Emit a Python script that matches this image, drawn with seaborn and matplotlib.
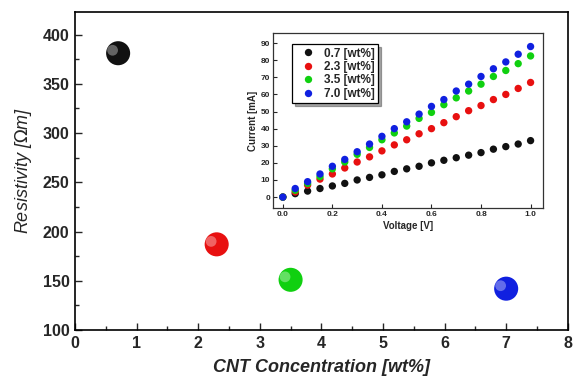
import numpy as np
import pandas as pd
import seaborn as sns
import matplotlib.pyplot as plt
from matplotlib.ticker import MultipleLocator

# main plot data
conc = [0.7, 2.3, 3.5, 7.0]
resistivity = [381, 187, 151, 142]
colors = ['#111111', '#e81010', '#10d010', '#1020e0']

# inset I-V data
voltage = [0.0, 0.05, 0.1, 0.15, 0.2, 0.25, 0.3, 0.35, 0.4, 0.45, 0.5,
           0.55, 0.6, 0.65, 0.7, 0.75, 0.8, 0.85, 0.9, 0.95, 1.0]
cur_07 = [0, 2, 3.5, 5, 6.5, 8, 10, 11.5, 13, 15, 16.5, 18, 20, 21.5, 23,
          24.5, 26, 28, 29.5, 31, 33]
cur_23 = [0, 3, 7, 10.5, 13.5, 17, 20.5, 23.5, 27, 30.5, 33.5, 37, 40, 43.5,
          47, 50.5, 53.5, 57, 60, 63.5, 67]
cur_35 = [0, 4, 8, 12, 16.5, 20.5, 25, 29, 33.5, 37.5, 41.5, 46, 49.5, 54,
          58, 62, 66, 70.5, 74, 78, 82.5]
cur_70 = [0, 5, 9, 13.5, 18, 22, 26.5, 31, 35.5, 40, 44, 48.5, 53, 57, 62,
          66, 70.5, 75, 79, 83.5, 88]
labels = ['0.7 [wt%]', '2.3 [wt%]', '3.5 [wt%]', '7.0 [wt%]']

sns.set_style("ticks")
plt.rcParams['font.family'] = ['Liberation Sans', 'DejaVu Sans']
plt.rcParams['xtick.direction'] = 'in'
plt.rcParams['ytick.direction'] = 'in'

df = pd.DataFrame({'conc': conc, 'res': resistivity, 'label': labels})

fig = plt.figure(figsize=(5.77, 3.82), dpi=100)
ax = fig.add_axes([0.130, 0.136, 0.854, 0.833])

# spheres: dark base + soft highlight
sns.scatterplot(data=df, x='conc', y='res', hue='label', palette=colors,
                s=300, edgecolor='none', legend=False, ax=ax, zorder=3)
ax.scatter(np.array(conc) - 0.09, np.array(resistivity) + 3, s=60,
           color='white', alpha=0.35, edgecolor='none', zorder=4)

ax.set_xlim(0, 8)
ax.set_ylim(100, 423)
ax.xaxis.set_major_locator(MultipleLocator(1))
ax.xaxis.set_minor_locator(MultipleLocator(0.5))
ax.yaxis.set_major_locator(MultipleLocator(50))
ax.yaxis.set_minor_locator(MultipleLocator(25))
ax.tick_params(which='major', length=5, width=1, labelsize=11.5, pad=4)
ax.tick_params(which='minor', length=3, width=1)
for t in ax.get_xticklabels() + ax.get_yticklabels():
    t.set_fontweight('bold')
for s in ax.spines.values():
    s.set_linewidth(1.2)
    s.set_color('black')
ax.set_xlabel('CNT Concentration [wt%]', fontsize=13, fontweight='bold',
              fontstyle='italic', labelpad=6)
ax.set_ylabel(r'Resistivity [$\Omega$m]', fontsize=13, fontstyle='italic',
              labelpad=6)

# inset
ins = fig.add_axes([0.473, 0.455, 0.468, 0.459])
series = [cur_07, cur_23, cur_35, cur_70]
long = pd.DataFrame({
    'V': voltage * 4,
    'I': sum(series, []),
    'label': sum([[l] * len(voltage) for l in labels], []),
})
sns.scatterplot(data=long, x='V', y='I', hue='label', palette=colors,
                s=28, edgecolor='none', ax=ins, zorder=3)
ins.set_xlim(-0.04, 1.05)
ins.set_ylim(-6.5, 96)
ins.xaxis.set_major_locator(MultipleLocator(0.2))
ins.yaxis.set_major_locator(MultipleLocator(10))
ins.xaxis.set_major_formatter(plt.FormatStrFormatter('%.1f'))
ins.tick_params(which='major', length=3, width=0.8, labelsize=6, pad=2)
for t in ins.get_xticklabels() + ins.get_yticklabels():
    t.set_fontweight('bold')
for s in ins.spines.values():
    s.set_linewidth(0.9)
    s.set_color('#333333')
ins.set_xlabel('Voltage [V]', fontsize=7, fontweight='bold', labelpad=2)
ins.set_ylabel('Current [mA]', fontsize=7, fontweight='bold', labelpad=2)
leg = ins.legend(title=None, loc='upper left',
                 prop={'weight': 'bold', 'size': 8.5}, frameon=True,
                 fancybox=False, shadow=True, handletextpad=0.4,
                 borderpad=0.3, labelspacing=0.12, markerscale=1.0,
                 bbox_to_anchor=(0.05, 0.97))
leg.get_frame().set_edgecolor('black')
leg.get_frame().set_linewidth(0.9)

fig.savefig('out.png', dpi=100)
